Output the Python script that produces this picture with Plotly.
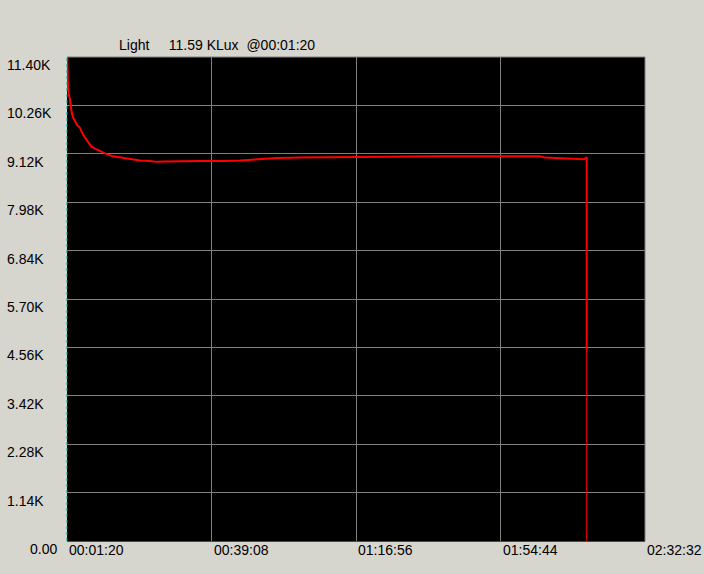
import plotly.graph_objects as go

# time in seconds since 00:00:00, light in Lux
times = [80, 96, 111, 127, 154, 174, 206, 237, 284, 315, 363, 410, 457, 519, 598, 676,
         802, 912, 1069, 1226, 1383, 1493, 1618, 1901, 2168, 2560, 2795, 3078, 3376,
         3737, 4255, 4679, 5307, 5935, 6563, 7190, 7504, 7583, 7897, 8132, 8195, 8237, 8237]
light = [11590, 10670, 10500, 10400, 10090, 9980, 9890, 9800, 9730, 9620, 9500, 9390, 9300,
         9240, 9180, 9130, 9060, 9030, 8990, 8960, 8950, 8930, 8940, 8950, 8950, 8950, 8960,
         8990, 9020, 9030, 9040, 9050, 9060, 9060, 9060, 9060, 9060, 9030, 9010, 9000, 8990,
         9040, 4500]
drop_times = [8237, 8237]
drop_light = [4500, 0]

x_ticks = [80, 2348, 4616, 6884, 9152]
x_labels = ["00:01:20", "00:39:08", "01:16:56", "01:54:44", "02:32:32"]
y_ticks = [0, 1140, 2280, 3420, 4560, 5700, 6840, 7980, 9120, 10260, 11400]
y_labels = ["0.00", "1.14K", "2.28K", "3.42K", "4.56K", "5.70K", "6.84K", "7.98K",
            "9.12K", "10.26K", "11.40K"]
title_text = "Light\u00a0\u00a0\u00a0\u00a0\u00a011.59 KLux\u00a0\u00a0@00:01:20"

FONT = "Liberation Sans, Arial, sans-serif"
BG = "#d6d5ce"

fig = go.Figure()
fig.add_trace(go.Scatter(x=times, y=light, mode="lines",
                         line=dict(color="#ff0000", width=2),
                         hoverinfo="skip"))
fig.add_trace(go.Scatter(x=drop_times, y=drop_light, mode="lines",
                         line=dict(color="#ff0000", width=1),
                         hoverinfo="skip"))

annotations = []
for v, lab in zip(y_ticks, y_labels):
    annotations.append(dict(
        x=(5 - 67) / 578 if lab != "0.00" else (28 - 67) / 578,
        xref="paper", y=v, yref="y", text=lab, showarrow=False,
        xanchor="left", yanchor="middle", yshift=-8,
        font=dict(family=FONT, size=14, color="#000000")))
for v, lab in zip(x_ticks, x_labels):
    annotations.append(dict(
        x=v, xref="x", y=0, yref="paper", text=lab, showarrow=False,
        xanchor="left", yanchor="middle", yshift=-9,
        font=dict(family=FONT, size=14, color="#000000")))
annotations.append(dict(
    x=(117 - 67) / 578, xref="paper", y=1, yref="paper", text=title_text,
    showarrow=False, xanchor="left", yanchor="middle", yshift=12,
    font=dict(family=FONT, size=14, color="#000000")))

fig.update_layout(
    width=704, height=574,
    margin=dict(l=67, r=59, t=57, b=33),
    paper_bgcolor=BG, plot_bgcolor="#000000",
    showlegend=False,
    annotations=annotations,
    xaxis=dict(range=[80, 9152], tickvals=x_ticks, showticklabels=False,
               showgrid=True, gridcolor="#808080", gridwidth=1, zeroline=False,
               showline=True, linecolor="#ff0000", linewidth=1, ticks=""),
    yaxis=dict(range=[0, 11400], tickvals=y_ticks, showticklabels=False,
               showgrid=True, gridcolor="#808080", gridwidth=1, zeroline=False,
               showline=False, ticks=""),
    shapes=[
        dict(type="line", xref="paper", yref="paper", x0=0, x1=1, y0=1, y1=1,
             line=dict(color="#808080", width=1)),
        dict(type="line", xref="paper", yref="paper", x0=1, x1=1, y0=0, y1=1,
             line=dict(color="#808080", width=1)),
        dict(type="line", xref="paper", yref="paper", x0=0, x1=0, y0=0, y1=1,
             line=dict(color="#00a0a0", width=1, dash="dot")),
    ],
)

fig.write_html("out.html", config={"displayModeBar": False},
               post_script="document.body.style.margin='0';"
                           "document.body.style.overflow='hidden';"
                           "document.body.style.background='" + BG + "';")
